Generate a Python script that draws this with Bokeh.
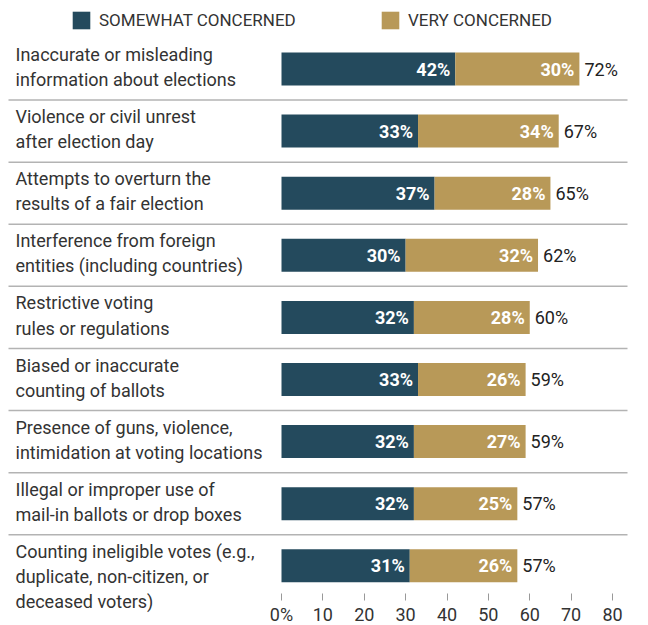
from bokeh.plotting import figure
from bokeh.models import (Range1d, FixedTicker, Legend, LegendItem,
                          ColumnDataSource)
from bokeh.core.properties import value
from bokeh.embed import file_html
from bokeh.resources import INLINE

# ---------------- data ----------------
categories = [
    "Inaccurate or misleading\ninformation about elections",
    "Violence or civil unrest\nafter election day",
    "Attempts to overturn the\nresults of a fair election",
    "Interference from foreign\nentities (including countries)",
    "Restrictive voting\nrules or regulations",
    "Biased or inaccurate\ncounting of ballots",
    "Presence of guns, violence,\nintimidation at voting locations",
    "Illegal or improper use of\nmail-in ballots or drop boxes",
    "Counting ineligible votes (e.g.,\nduplicate, non-citizen, or\ndeceased voters)",
]
somewhat = [42, 33, 37, 30, 32, 33, 32, 32, 31]
very = [30, 34, 28, 32, 28, 26, 27, 25, 26]
series_names = ["SOMEWHAT CONCERNED", "VERY CONCERNED"]
tick_values = [0, 10, 20, 30, 40, 50, 60, 70, 80]
tick_labels = ["0%", "10", "20", "30", "40", "50", "60", "70", "80"]

# ---------------- style ----------------
FONT = "Roboto"
DARK = "#244a5d"
TAN = "#b89958"
TEXT = "#333333"

W = 648
H = 625
AXIS_PX = 593        # pixel row where the x axis sits
PX0 = 281.0          # pixel of value 0
PXU = 4.1375         # pixels per percentage point
ROW0 = 68.5          # pixel center of first row
ROWH = 62.1          # pixel step between rows


def xv(px):
    return (px - PX0) / PXU


def yv(px):
    return (px - ROW0) / ROWH


n = len(categories)
ys = list(range(n))
ends = [s + v for s, v in zip(somewhat, very)]

src = ColumnDataSource(dict(
    y=ys, cat=categories, somewhat=somewhat, very=very, end=ends,
    s_lab=[f"{v}%" for v in somewhat],
    v_lab=[f"{v}%" for v in very],
    t_lab=[f"{v}%" for v in ends],
))

p = figure(width=W, height=H,
           x_range=Range1d(xv(0), xv(W)),
           y_range=Range1d(yv(H), yv(0)),
           output_backend="svg", toolbar_location=None,
           min_border=0, min_border_left=0, min_border_right=0,
           min_border_top=0, min_border_bottom=0)
p.outline_line_color = None
p.background_fill_color = "white"
p.border_fill_color = "white"
p.grid.visible = False
p.yaxis.visible = False

# separators
sep_y = [i + 0.5 for i in range(n - 1)]
p.segment(x0=[xv(8)] * len(sep_y), x1=[xv(627)] * len(sep_y),
          y0=sep_y, y1=sep_y, line_color="#b3b3b3", line_width=1.5)

BAR_H = 33 / ROWH
r1 = p.hbar(y="y", left=0, right="somewhat", height=BAR_H, source=src,
            fill_color=DARK, line_color=None)
r2 = p.hbar(y="y", left="somewhat", right="end", height=BAR_H, source=src,
            fill_color=TAN, line_color=None)

# value labels
p.text(x="somewhat", y="y", text="s_lab", source=src, x_offset=-5,
       text_align="right", text_baseline="middle", text_color="white",
       text_font=value(FONT), text_font_size="18px", text_font_style="bold")
p.text(x="end", y="y", text="v_lab", source=src, x_offset=-5,
       text_align="right", text_baseline="middle", text_color="white",
       text_font=value(FONT), text_font_size="18px", text_font_style="bold")
p.text(x="end", y="y", text="t_lab", source=src, x_offset=5,
       text_align="left", text_baseline="middle", text_color="#222222",
       text_font=value(FONT), text_font_size="18px")

# category labels
p.text(x=xv(15), y="y", text="cat", source=src, y_offset=-25,
       text_align="left", text_baseline="top", text_color=TEXT,
       text_font=value(FONT), text_font_size="18px", text_line_height=1.2)

# x axis, drawn at a fixed position inside the frame
ax = p.xaxis[0]
ax.fixed_location = yv(AXIS_PX)
ax.ticker = FixedTicker(ticks=tick_values)
ax.major_label_overrides = {t: l for t, l in zip(tick_values, tick_labels)}
ax.axis_line_color = None
ax.major_tick_line_color = "#999999"
ax.major_tick_out = 7
ax.major_tick_in = 0
ax.minor_tick_line_color = None
ax.major_label_standoff = 3
ax.major_label_text_font = FONT
ax.major_label_text_font_size = "18px"
ax.major_label_text_color = TEXT

# legends
leg1 = Legend(items=[LegendItem(label=series_names[0], renderers=[r1])],
              location=(70, H - 31))
leg2 = Legend(items=[LegendItem(label=series_names[1], renderers=[r2])],
              location=(379, H - 31))
for lg in (leg1, leg2):
    lg.orientation = "horizontal"
    lg.padding = 0
    lg.margin = 0
    lg.spacing = 0
    lg.border_line_color = None
    lg.background_fill_alpha = 0
    lg.glyph_width = 22
    lg.glyph_height = 22
    lg.label_height = 22
    lg.label_standoff = 7
    lg.label_text_font = FONT
    lg.label_text_font_size = "17px"
    lg.label_text_color = TEXT
    p.add_layout(lg)

open("out.html", "w").write(file_html(p, INLINE))
